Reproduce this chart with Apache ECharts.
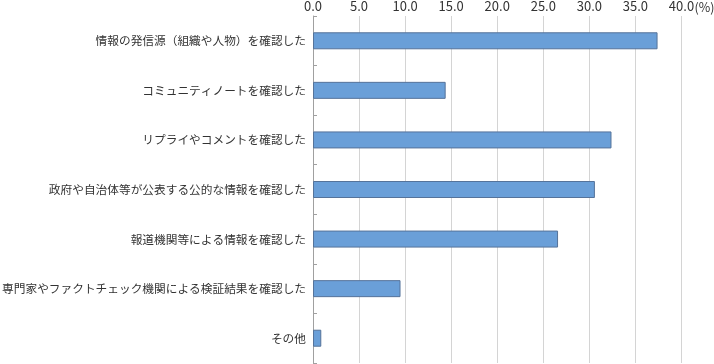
<!DOCTYPE html>
<html>
<head>
<meta charset="utf-8">
<script src="https://cdn.jsdelivr.net/npm/echarts@6/dist/echarts.min.js"></script>
<style>
html,body{margin:0;padding:0;background:#fff;}
#c{width:714px;height:364px;}
</style>
</head>
<body>
<div id="c"></div>
<script>
const categories = [
  '情報の発信源（組織や人物）を確認した',
  'コミュニティノートを確認した',
  'リプライやコメントを確認した',
  '政府や自治体等が公表する公的な情報を確認した',
  '報道機関等による情報を確認した',
  '専門家やファクトチェック機関による検証結果を確認した',
  'その他'
];
const values = [37.4, 14.4, 32.4, 30.6, 26.6, 9.5, 0.9];
const xTickLabels = ['0.0','5.0','10.0','15.0','20.0','25.0','30.0','35.0','40.0'];

const chart = echarts.init(document.getElementById('c'), null, {renderer:'canvas'});
const font = '"Noto Sans CJK JP", "Noto Sans", sans-serif';
chart.setOption({
  animation:false,
  grid:{left:313, right:32.5, top:16, bottom:1, containLabel:false, outerBoundsMode:'none'},
  xAxis:{
    type:'value', position:'top', min:0, max:40, interval:5,
    name:'(%)', nameLocation:'end', nameGap:13, nameMoveOverlap:false,
    nameTextStyle:{color:'#333', fontSize:12.5, fontFamily:font, verticalAlign:'bottom', padding:[0,0,2,0]},
    axisLine:{show:false}, axisTick:{show:false},
    axisLabel:{color:'#333', fontSize:13, fontFamily:font, margin:3,
      formatter:(v)=>xTickLabels[Math.round(v/5)]},
    splitLine:{show:true, lineStyle:{color:'#d4d4d4', width:1}}
  },
  yAxis:{
    type:'category', data:categories, inverse:true,
    axisLine:{show:true, lineStyle:{color:'#a0a0a0', width:1}},
    axisTick:{show:true, inside:true, length:4, lineStyle:{color:'#a0a0a0'}},
    axisLabel:{color:'#333', fontSize:11.7, fontFamily:font, margin:7}
  },
  series:[{
    type:'bar', data:values, barWidth:17,
    itemStyle:{color:'#6a9fd8', borderColor:'#55739a', borderWidth:1}
  }]
});
</script>
</body>
</html>
